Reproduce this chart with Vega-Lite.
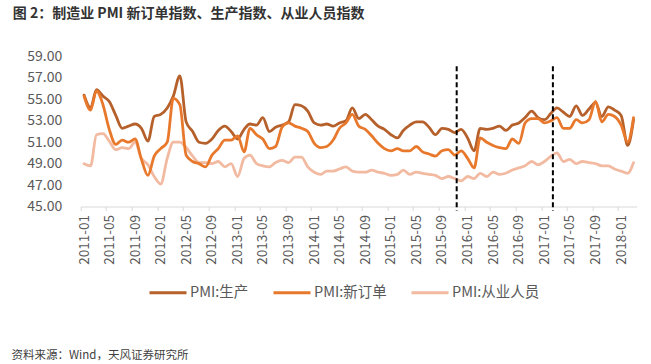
{
  "$schema": "https://vega.github.io/schema/vega-lite/v6.json",
  "width": 556,
  "height": 150,
  "autosize": {"type": "none"},
  "padding": {"left": 80.7, "top": 56.5, "right": 14.3, "bottom": 157.5},
  "background": "#ffffff",
  "config": {
    "view": {"stroke": null},
    "font": "Noto Sans CJK SC",
    "axis": {"labelOverlap": false, "labelFlush": false}
  },
  "title": {
    "text": "图 2：制造业 PMI 新订单指数、生产指数、从业人员指数",
    "anchor": "start",
    "frame": "group",
    "dx": -68,
    "offset": 29,
    "fontSize": 14,
    "fontWeight": "bold",
    "color": "#333333"
  },
  "layer": [
    {
      "data": {
        "values": [
          {"d": "2011-01", "p": 55.4, "n": 55.3, "e": 49.0},
          {"d": "2011-02", "p": 54.2, "n": 54.0, "e": 48.8},
          {"d": "2011-03", "p": 55.9, "n": 55.8, "e": 51.7},
          {"d": "2011-04", "p": 55.3, "n": 54.5, "e": 51.8},
          {"d": "2011-05", "p": 54.8, "n": 52.2, "e": 51.1},
          {"d": "2011-06", "p": 53.5, "n": 50.8, "e": 50.3},
          {"d": "2011-07", "p": 52.3, "n": 51.2, "e": 50.5},
          {"d": "2011-08", "p": 52.5, "n": 51.0, "e": 50.4},
          {"d": "2011-09", "p": 52.7, "n": 51.3, "e": 51.0},
          {"d": "2011-10", "p": 52.3, "n": 49.4, "e": 49.5},
          {"d": "2011-11", "p": 51.1, "n": 47.9, "e": 48.9},
          {"d": "2011-12", "p": 53.4, "n": 49.7, "e": 47.8},
          {"d": "2012-01", "p": 53.6, "n": 50.4, "e": 47.1},
          {"d": "2012-02", "p": 54.2, "n": 51.0, "e": 49.5},
          {"d": "2012-03", "p": 55.3, "n": 55.1, "e": 51.0},
          {"d": "2012-04", "p": 57.2, "n": 54.5, "e": 51.0},
          {"d": "2012-05", "p": 52.9, "n": 49.8, "e": 50.5},
          {"d": "2012-06", "p": 52.0, "n": 49.2, "e": 49.7},
          {"d": "2012-07", "p": 51.0, "n": 49.0, "e": 49.1},
          {"d": "2012-08", "p": 50.9, "n": 48.7, "e": 49.1},
          {"d": "2012-09", "p": 51.3, "n": 49.8, "e": 49.0},
          {"d": "2012-10", "p": 52.1, "n": 50.4, "e": 49.2},
          {"d": "2012-11", "p": 52.5, "n": 51.2, "e": 48.7},
          {"d": "2012-12", "p": 52.0, "n": 51.2, "e": 49.0},
          {"d": "2013-01", "p": 51.3, "n": 51.6, "e": 47.8},
          {"d": "2013-02", "p": 52.2, "n": 50.1, "e": 49.5},
          {"d": "2013-03", "p": 52.7, "n": 52.3, "e": 49.8},
          {"d": "2013-04", "p": 52.6, "n": 51.7, "e": 49.0},
          {"d": "2013-05", "p": 53.3, "n": 51.3, "e": 48.8},
          {"d": "2013-06", "p": 52.0, "n": 50.4, "e": 48.7},
          {"d": "2013-07", "p": 52.4, "n": 50.6, "e": 49.1},
          {"d": "2013-08", "p": 52.6, "n": 52.4, "e": 49.3},
          {"d": "2013-09", "p": 52.9, "n": 52.8, "e": 49.1},
          {"d": "2013-10", "p": 54.5, "n": 52.5, "e": 49.6},
          {"d": "2013-11", "p": 54.4, "n": 52.3, "e": 49.6},
          {"d": "2013-12", "p": 53.9, "n": 52.0, "e": 48.7},
          {"d": "2014-01", "p": 52.8, "n": 50.9, "e": 48.2},
          {"d": "2014-02", "p": 52.6, "n": 50.5, "e": 48.0},
          {"d": "2014-03", "p": 52.7, "n": 50.6, "e": 48.3},
          {"d": "2014-04", "p": 52.5, "n": 51.2, "e": 48.3},
          {"d": "2014-05", "p": 52.8, "n": 52.3, "e": 48.5},
          {"d": "2014-06", "p": 53.0, "n": 52.8, "e": 48.7},
          {"d": "2014-07", "p": 54.2, "n": 53.6, "e": 48.3},
          {"d": "2014-08", "p": 53.2, "n": 52.5, "e": 48.2},
          {"d": "2014-09", "p": 53.6, "n": 52.2, "e": 48.2},
          {"d": "2014-10", "p": 53.1, "n": 51.6, "e": 48.4},
          {"d": "2014-11", "p": 52.5, "n": 50.9, "e": 48.2},
          {"d": "2014-12", "p": 52.2, "n": 50.4, "e": 48.1},
          {"d": "2015-01", "p": 51.7, "n": 50.2, "e": 47.9},
          {"d": "2015-02", "p": 51.4, "n": 50.4, "e": 48.0},
          {"d": "2015-03", "p": 52.1, "n": 50.2, "e": 48.4},
          {"d": "2015-04", "p": 52.6, "n": 50.2, "e": 48.0},
          {"d": "2015-05", "p": 52.9, "n": 50.6, "e": 48.2},
          {"d": "2015-06", "p": 52.9, "n": 50.1, "e": 48.1},
          {"d": "2015-07", "p": 52.4, "n": 49.9, "e": 48.0},
          {"d": "2015-08", "p": 51.7, "n": 49.7, "e": 47.9},
          {"d": "2015-09", "p": 52.3, "n": 50.2, "e": 47.6},
          {"d": "2015-10", "p": 52.2, "n": 50.3, "e": 47.8},
          {"d": "2015-11", "p": 51.9, "n": 49.8, "e": 47.6},
          {"d": "2015-12", "p": 52.2, "n": 50.2, "e": 47.4},
          {"d": "2016-01", "p": 51.4, "n": 49.5, "e": 47.8},
          {"d": "2016-02", "p": 50.2, "n": 48.6, "e": 47.6},
          {"d": "2016-03", "p": 52.3, "n": 51.4, "e": 48.1},
          {"d": "2016-04", "p": 52.2, "n": 51.0, "e": 47.8},
          {"d": "2016-05", "p": 52.3, "n": 50.7, "e": 48.2},
          {"d": "2016-06", "p": 52.5, "n": 50.5, "e": 48.0},
          {"d": "2016-07", "p": 52.1, "n": 50.4, "e": 48.1},
          {"d": "2016-08", "p": 52.6, "n": 51.3, "e": 48.4},
          {"d": "2016-09", "p": 52.8, "n": 50.9, "e": 48.6},
          {"d": "2016-10", "p": 53.3, "n": 52.8, "e": 48.8},
          {"d": "2016-11", "p": 53.9, "n": 53.2, "e": 49.2},
          {"d": "2016-12", "p": 53.3, "n": 53.2, "e": 48.9},
          {"d": "2017-01", "p": 53.1, "n": 52.8, "e": 49.2},
          {"d": "2017-02", "p": 53.7, "n": 53.0, "e": 49.7},
          {"d": "2017-03", "p": 54.2, "n": 53.3, "e": 50.0},
          {"d": "2017-04", "p": 53.8, "n": 52.3, "e": 49.2},
          {"d": "2017-05", "p": 53.4, "n": 52.3, "e": 49.4},
          {"d": "2017-06", "p": 54.4, "n": 53.1, "e": 49.0},
          {"d": "2017-07", "p": 53.5, "n": 52.8, "e": 49.2},
          {"d": "2017-08", "p": 54.1, "n": 53.1, "e": 49.1},
          {"d": "2017-09", "p": 54.7, "n": 54.8, "e": 49.0},
          {"d": "2017-10", "p": 53.4, "n": 52.9, "e": 48.8},
          {"d": "2017-11", "p": 54.3, "n": 53.6, "e": 48.8},
          {"d": "2017-12", "p": 54.0, "n": 53.4, "e": 48.5},
          {"d": "2018-01", "p": 53.5, "n": 52.6, "e": 48.3},
          {"d": "2018-02", "p": 50.7, "n": 51.0, "e": 48.1},
          {"d": "2018-03", "p": 53.1, "n": 53.3, "e": 49.1}
        ],
        "format": {"parse": {"d": "utc:'%Y-%m'"}}
      },
      "transform": [{"fold": ["e", "p", "n"], "as": ["series", "value"]}],
      "mark": {"type": "line", "interpolate": "monotone", "strokeWidth": 2.8, "strokeCap": "round", "strokeJoin": "round"},
      "encoding": {
        "x": {
          "field": "d",
          "type": "temporal",
          "scale": {
            "type": "utc",
            "domain": [
              {"year": 2010, "month": 12, "date": 16, "utc": true},
              {"year": 2018, "month": 3, "date": 16, "utc": true}
            ]
          },
          "axis": {
            "values": [
              {"year": 2011, "month": 1, "date": 1, "utc": true},
              {"year": 2011, "month": 5, "date": 1, "utc": true},
              {"year": 2011, "month": 9, "date": 1, "utc": true},
              {"year": 2012, "month": 1, "date": 1, "utc": true},
              {"year": 2012, "month": 5, "date": 1, "utc": true},
              {"year": 2012, "month": 9, "date": 1, "utc": true},
              {"year": 2013, "month": 1, "date": 1, "utc": true},
              {"year": 2013, "month": 5, "date": 1, "utc": true},
              {"year": 2013, "month": 9, "date": 1, "utc": true},
              {"year": 2014, "month": 1, "date": 1, "utc": true},
              {"year": 2014, "month": 5, "date": 1, "utc": true},
              {"year": 2014, "month": 9, "date": 1, "utc": true},
              {"year": 2015, "month": 1, "date": 1, "utc": true},
              {"year": 2015, "month": 5, "date": 1, "utc": true},
              {"year": 2015, "month": 9, "date": 1, "utc": true},
              {"year": 2016, "month": 1, "date": 1, "utc": true},
              {"year": 2016, "month": 5, "date": 1, "utc": true},
              {"year": 2016, "month": 9, "date": 1, "utc": true},
              {"year": 2017, "month": 1, "date": 1, "utc": true},
              {"year": 2017, "month": 5, "date": 1, "utc": true},
              {"year": 2017, "month": 9, "date": 1, "utc": true},
              {"year": 2018, "month": 1, "date": 1, "utc": true}
            ],
            "tickCount": 100,
            "labelExpr": "utcFormat(datum.value, '%Y-%m')",
            "labelAngle": -90,
            "labelAlign": "right",
            "labelBaseline": "middle",
            "labelFontSize": 13.5,
            "labelColor": "#595959",
            "labelPadding": 4,
            "labelOverlap": false,
            "labelFlush": false,
            "tickOffset": -3.2,
            "labelOffset": 3.2,
            "tickSize": 4,
            "tickColor": "#d9d9d9",
            "domainColor": "#d9d9d9",
            "grid": false,
            "title": "资料来源：Wind，天风证券研究所",
            "titleX": -69.7,
            "titleY": 148.5,
            "titleAngle": 0,
            "titleAlign": "left",
            "titleBaseline": "middle",
            "titleFontSize": 11.5,
            "titleFontWeight": "normal",
            "titleColor": "#404040"
          }
        },
        "y": {
          "field": "value",
          "type": "quantitative",
          "scale": {"domain": [45, 59], "nice": false, "zero": false},
          "axis": {
            "values": [45, 47, 49, 51, 53, 55, 57, 59],
            "tickCount": 100,
            "format": ".2f",
            "domain": false,
            "ticks": false,
            "grid": false,
            "labelOverlap": false,
            "labelFlush": false,
            "labelPadding": 19,
            "labelFontSize": 14,
            "labelColor": "#595959",
            "title": null
          }
        },
        "color": {
          "field": "series",
          "type": "nominal",
          "scale": {"domain": ["p", "n", "e"], "range": ["#b6612b", "#e8792c", "#f2baa1"]},
          "legend": {
            "orient": "none",
            "legendX": 67.3,
            "legendY": 216,
            "direction": "horizontal",
            "title": null,
            "symbolType": "stroke",
            "symbolSize": 1369,
            "symbolStrokeWidth": 3,
            "labelFontSize": 14.5,
            "labelColor": "#595959",
            "labelOffset": 2,
            "columnPadding": 18,
            "labelLimit": 200,
            "labelExpr": "{'p': 'PMI:生产', 'n': 'PMI:新订单', 'e': 'PMI:从业人员'}[datum.label]"
          }
        }
      }
    },
    {
      "data": {
        "values": [
          {"d": "2015-11-10", "top": 58.1, "bottom": 44.6},
          {"d": "2017-02-10", "top": 58.1, "bottom": 44.6}
        ],
        "format": {"parse": {"d": "utc:'%Y-%m-%d'"}}
      },
      "mark": {"type": "rule", "color": "#000000", "strokeWidth": 2, "strokeDash": [5, 3]},
      "encoding": {
        "x": {"field": "d", "type": "temporal"},
        "y": {"field": "top", "type": "quantitative"},
        "y2": {"field": "bottom"}
      }
    }
  ]
}
